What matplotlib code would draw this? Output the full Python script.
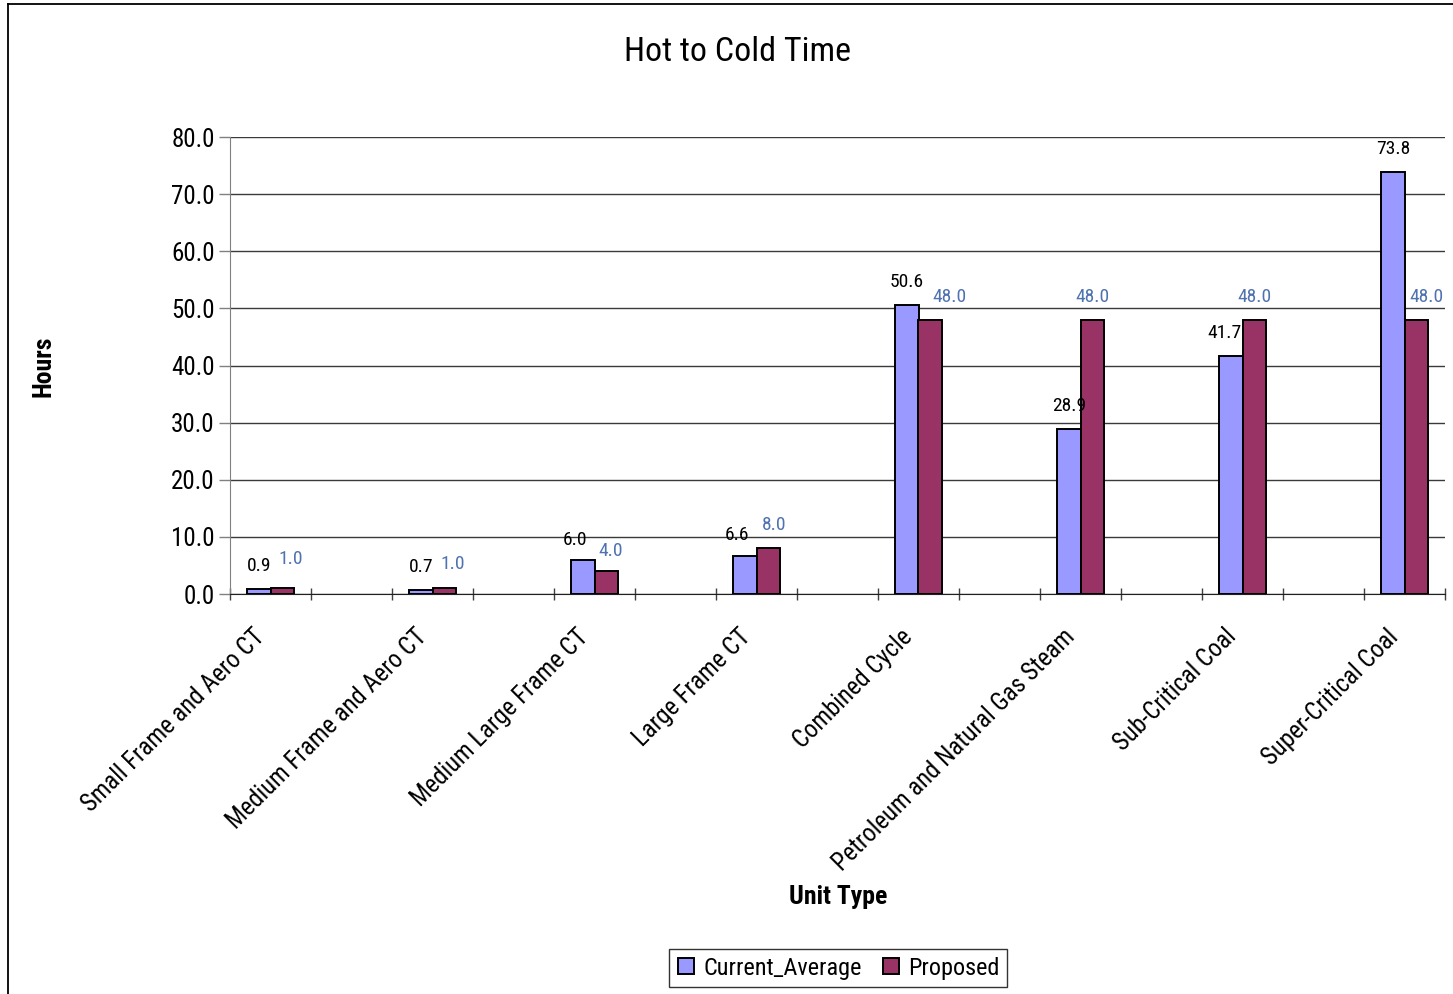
import matplotlib
matplotlib.use("Agg")
import matplotlib.pyplot as plt
from matplotlib.lines import Line2D
from matplotlib.transforms import ScaledTranslation
import numpy as np

plt.rcParams['font.family'] = ['Roboto Condensed', 'DejaVu Sans']

categories = ["Small Frame and Aero CT", "Medium Frame and Aero CT",
              "Medium Large Frame CT", "Large Frame CT", "Combined Cycle",
              "Petroleum and Natural Gas Steam", "Sub-Critical Coal",
              "Super-Critical Coal"]
current_average = [0.9, 0.7, 6.0, 6.6, 50.6, 28.9, 41.7, 73.8]
proposed = [1.0, 1.0, 4.0, 8.0, 48.0, 48.0, 48.0, 48.0]
y_ticks = [0, 10, 20, 30, 40, 50, 60, 70, 80]

# label nudges in pixels (dx, dy) so the value labels sit clear of neighbours
current_nudge = [(0, 0), (0, 0), (-8, -3), (-8, -2), (0, 0), (0, 0), (-6, 0), (0, 0)]
proposed_nudge = [(9, 6), (9, 1), (5, -3), (6, 0), (19, 0), (0, 0), (0, 0), (10, 0)]

BLUE = "#9999FF"
RED = "#993366"
LABEL_BLUE = "#4F72B0"

W, H, DPI = 1453, 994, 100
fig = plt.figure(figsize=(W / DPI, H / DPI), dpi=DPI)

# outer chart border
fig.add_artist(Line2D([8 / W, 8 / W], [0, 1 - 4 / H], color="black", lw=1.3,
                      transform=fig.transFigure))
fig.add_artist(Line2D([8 / W, 1], [1 - 4 / H, 1 - 4 / H], color="black", lw=1.3,
                      transform=fig.transFigure))

ax = fig.add_axes([230 / W, 1 - 594 / H, 1215 / W, 457 / H])

# categories sit on every other slot of a 15-slot axis
x = np.arange(len(categories)) * 2
bw = 0.2857
ax.bar(x - bw / 2, current_average, bw, color=BLUE, edgecolor="black", lw=1.4,
       zorder=3, label="Current_Average")
ax.bar(x + bw / 2, proposed, bw, color=RED, edgecolor="black", lw=1.4,
       zorder=3, label="Proposed")

for i in range(len(categories)):
    dx, dy = current_nudge[i]
    ax.annotate(f"{current_average[i]:.1f}", (x[i] - bw / 2, current_average[i]),
                xytext=(dx, 23 + dy), textcoords="offset pixels",
                ha="center", va="center", fontsize=14, color="black", zorder=5)
    dx, dy = proposed_nudge[i]
    ax.annotate(f"{proposed[i]:.1f}", (x[i] + bw / 2, proposed[i]),
                xytext=(dx, 23 + dy), textcoords="offset pixels",
                ha="center", va="center", fontsize=14, color=LABEL_BLUE, zorder=5)

ax.set_xlim(-0.5, 14.5)
ax.set_ylim(0, 80)
ax.set_yticks(y_ticks)
ax.set_yticklabels([f"{v:.1f}" for v in y_ticks], fontsize=18)
ax.yaxis.grid(True, color="#3a3a3a", lw=1.0, zorder=0)
ax.tick_params(axis="y", length=8, width=1, color="#808080", pad=3, direction="out")

ax.set_xticks(np.arange(-0.5, 15, 1.0))
ax.set_xticklabels([])
ax.tick_params(axis="x", which="major", length=8, width=1, color="#404040", direction="inout")
ax.set_xticks(x, minor=True)
ax.set_xticklabels(categories, minor=True, rotation=45, ha="right",
                   rotation_mode="anchor", fontsize=17.8)
ax.tick_params(axis="x", which="minor", length=0, pad=22)
shift = ScaledTranslation(-18 / DPI, 0, fig.dpi_scale_trans)
for lab in ax.get_xticklabels(minor=True):
    lab.set_transform(lab.get_transform() + shift)

for side in ("top", "right"):
    ax.spines[side].set_visible(False)
ax.spines["left"].set_color("#808080")
ax.spines["bottom"].set_color("#202020")

fig.text(737 / W, 1 - 52 / H, "Hot to Cold Time", ha="center", va="center",
         fontsize=24.5)
fig.text(44 / W, 1 - 366 / H, "Hours", ha="center", va="center", rotation=90,
         fontsize=18.5, fontweight="bold")
fig.text(838 / W, 1 - 897 / H, "Unit Type", ha="center", va="center",
         fontsize=18.5, fontweight="bold")

handles = [Line2D([], [], marker="s", ls="none", markersize=12, markerfacecolor=BLUE,
                  markeredgecolor="black", markeredgewidth=1.4),
           Line2D([], [], marker="s", ls="none", markersize=12, markerfacecolor=RED,
                  markeredgecolor="black", markeredgewidth=1.4)]
leg = fig.legend(handles, ["Current_Average", "Proposed"], loc="center",
                 bbox_to_anchor=(838 / W, 1 - 968 / H), ncol=2, fontsize=17.5,
                 frameon=True, fancybox=False, handlelength=0.8, handletextpad=0.3,
                 columnspacing=0.8, borderpad=0.3)
leg.get_frame().set_edgecolor("black")
leg.get_frame().set_linewidth(1.0)

fig.savefig("out.png", dpi=DPI)
